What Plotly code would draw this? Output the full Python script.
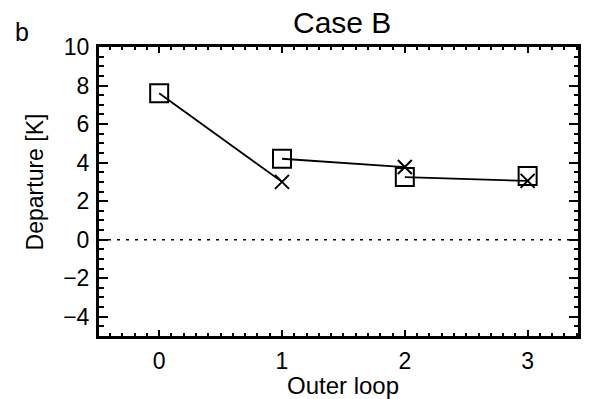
import plotly.graph_objects as go

# Data
loops = [0, 1, 2, 3]
before_departure = [7.6, 4.2, 3.25, 3.3]      # squares
after_loops = [1, 2, 3]
after_departure = [3.0, 3.77, 3.05]           # crosses

# segments: square at loop k -> cross at loop k+1
seg_x, seg_y = [], []
for i, xa in enumerate(after_loops):
    seg_x += [loops[i], xa, None]
    seg_y += [before_departure[i], after_departure[i], None]

FONT = "Liberation Sans, Arial, Helvetica, sans-serif"

fig = go.Figure()
fig.add_hline(y=0, line=dict(color="black", width=1.5, dash="3px,6px"), layer="below")
fig.add_trace(go.Scatter(x=seg_x, y=seg_y, mode="lines",
                         line=dict(color="black", width=1.8), showlegend=False, hoverinfo="skip"))
fig.add_trace(go.Scatter(x=loops, y=before_departure, mode="markers",
                         marker=dict(symbol="square-open", size=18, color="black",
                                     line=dict(color="black", width=2)), showlegend=False))
fig.add_trace(go.Scatter(x=after_loops, y=after_departure, mode="markers",
                         marker=dict(symbol="x-thin-open", size=14, color="black",
                                     line=dict(color="black", width=2)), showlegend=False))

axis_common = dict(showline=True, linewidth=3, linecolor="black", mirror="allticks",
                   ticks="inside", tickcolor="black", tickwidth=2, showgrid=False,
                   zeroline=False, tickfont=dict(family=FONT, size=23, color="black"))

fig.update_xaxes(range=[-0.49, 3.41], tickvals=loops, ticklen=6, ticklabelstandoff=2,
                 minor=dict(dtick=0.1, ticks="inside", ticklen=3, tickwidth=2, tickcolor="black"),
                 **axis_common)
fig.update_yaxes(range=[-5, 10], dtick=2, ticklen=9, ticklabelstandoff=2,
                 minor=dict(dtick=0.5, ticks="inside", ticklen=4.5, tickwidth=2, tickcolor="black"),
                 **axis_common)

W, H = 592, 399
L, R, T, B = 99, 11, 47, 63
pw, ph = W - L - R, H - T - B

def px_x(px):
    return (px - L) / pw

def px_y(py):
    return (H - B - py) / ph

fig.update_layout(
    width=W, height=H,
    margin=dict(l=L, r=R, t=T, b=B),
    paper_bgcolor="white", plot_bgcolor="white",
    font=dict(family=FONT, color="black"),
    annotations=[
        dict(text="Case B", x=px_x(344), y=px_y(22), xref="paper", yref="paper",
             showarrow=False, xanchor="center", yanchor="middle",
             font=dict(family=FONT, size=30, color="black")),
        dict(text="b", x=px_x(22), y=px_y(32), xref="paper", yref="paper",
             showarrow=False, xanchor="center", yanchor="middle",
             font=dict(family=FONT, size=25, color="black")),
        dict(text="Departure [K]", x=px_x(35), y=px_y(182), xref="paper", yref="paper",
             showarrow=False, xanchor="center", yanchor="middle", textangle=-90,
             font=dict(family=FONT, size=23, color="black")),
        dict(text="Outer loop", x=px_x(345), y=px_y(385), xref="paper", yref="paper",
             showarrow=False, xanchor="center", yanchor="middle",
             font=dict(family=FONT, size=24, color="black")),
    ],
)

fig.write_html("out.html", config={"displayModeBar": False},
               post_script="document.body.style.margin='0';")
